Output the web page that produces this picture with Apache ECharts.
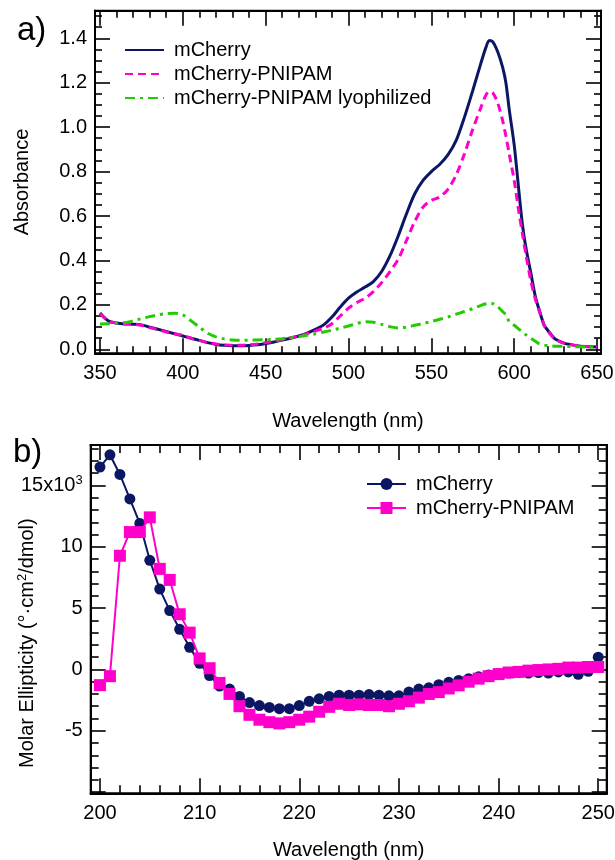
<!DOCTYPE html>
<html>
<head>
<meta charset="utf-8">
<script src="https://cdn.jsdelivr.net/npm/echarts@6/dist/echarts.min.js"></script>
<style>
html,body{margin:0;padding:0;background:#fff;}
#chart{width:615px;height:860px;}
</style>
</head>
<body>
<div id="chart"></div>
<script>
// ---------- Panel a) absorbance ----------
const absWavelength = [350,355,360,365,370,375,380,385,390,395,400,405,410,415,420,425,430,435,440,445,450,455,460,465,470,475,480,485,490,495,500,505,510,515,520,525,530,535,540,545,550,555,560,565,570,575,580,583,585,587,590,593,595,597,600,603,605,607,610,613,615,618,620,623,625,630,635,640,645,650];
const absMCherry = [0.163,0.128,0.118,0.114,0.113,0.110,0.100,0.090,0.080,0.070,0.060,0.050,0.040,0.030,0.022,0.018,0.016,0.016,0.017,0.020,0.026,0.033,0.042,0.050,0.060,0.073,0.090,0.110,0.145,0.190,0.230,0.258,0.280,0.305,0.350,0.420,0.510,0.610,0.700,0.760,0.800,0.832,0.875,0.940,1.045,1.165,1.290,1.360,1.390,1.385,1.340,1.270,1.200,1.080,0.920,0.700,0.560,0.460,0.345,0.230,0.180,0.110,0.088,0.060,0.045,0.028,0.020,0.014,0.012,0.010];
const absPNIPAM = [0.160,0.128,0.118,0.115,0.113,0.108,0.098,0.088,0.078,0.070,0.062,0.050,0.040,0.030,0.024,0.020,0.018,0.018,0.020,0.024,0.030,0.036,0.044,0.052,0.060,0.070,0.082,0.095,0.115,0.150,0.185,0.210,0.230,0.260,0.300,0.350,0.405,0.490,0.575,0.640,0.670,0.685,0.720,0.785,0.880,0.990,1.090,1.145,1.160,1.155,1.110,1.030,0.960,0.880,0.760,0.610,0.520,0.430,0.310,0.220,0.175,0.110,0.085,0.058,0.044,0.028,0.020,0.015,0.012,0.010];
const absLyophilized = [0.114,0.115,0.118,0.120,0.128,0.138,0.147,0.155,0.161,0.162,0.155,0.128,0.100,0.072,0.056,0.047,0.042,0.041,0.041,0.042,0.043,0.045,0.048,0.052,0.057,0.063,0.070,0.078,0.086,0.095,0.105,0.116,0.124,0.122,0.112,0.102,0.096,0.100,0.108,0.116,0.125,0.135,0.145,0.158,0.170,0.183,0.198,0.205,0.208,0.206,0.192,0.170,0.155,0.125,0.108,0.090,0.078,0.066,0.050,0.035,0.025,0.019,0.017,0.015,0.014,0.013,0.012,0.011,0.010,0.010];
const absXMajor = [350,400,450,500,550,600,650];
const absXMinor = [360,370,380,390,410,420,430,440,460,470,480,490,510,520,530,540,560,570,580,590,610,620,630,640];
const absYMajor = [0.0,0.2,0.4,0.6,0.8,1.0,1.2,1.4];
const absYMinor = [0.05,0.1,0.15,0.25,0.3,0.35,0.45,0.5,0.55,0.65,0.7,0.75,0.85,0.9,0.95,1.05,1.1,1.15,1.25,1.3,1.35,1.45,1.5];

// ---------- Panel b) circular dichroism ----------
const cdWavelength = [200,201,202,203,204,205,206,207,208,209,210,211,212,213,214,215,216,217,218,219,220,221,222,223,224,225,226,227,228,229,230,231,232,233,234,235,236,237,238,239,240,241,242,243,244,245,246,247,248,249,250];
const cdMCherry = [16.5,17.5,15.9,13.9,11.9,8.9,6.55,4.8,3.27,1.8,0.5,-0.5,-1.35,-1.6,-2.2,-2.7,-2.95,-3.1,-3.2,-3.2,-2.95,-2.6,-2.4,-2.2,-2.1,-2.1,-2.1,-2.05,-2.1,-2.15,-2.15,-1.85,-1.6,-1.5,-1.25,-1.05,-0.9,-0.75,-0.6,-0.45,-0.35,-0.3,-0.25,-0.3,-0.25,-0.3,-0.2,-0.2,-0.4,-0.15,1.0];
const cdPNIPAM = [-1.28,-0.55,9.27,11.2,11.2,12.4,8.2,7.3,4.5,3.0,0.9,0.1,-1.1,-2.0,-3.0,-3.7,-4.1,-4.3,-4.4,-4.3,-4.1,-3.85,-3.45,-3.05,-2.8,-2.9,-2.85,-2.9,-2.9,-3.0,-2.8,-2.6,-2.3,-2.0,-1.85,-1.55,-1.3,-1.0,-0.75,-0.55,-0.38,-0.25,-0.2,-0.1,-0.05,0.0,0.05,0.15,0.15,0.2,0.2];
const cdXMajor = [200,210,220,230,240,250];
const cdXMinor = [202,204,206,208,212,214,216,218,222,224,226,228,232,234,236,238,242,244,246,248];
const cdYMajor = [-10,-5,0,5,10,15];
const cdYMinor = [-9,-8,-7,-6,-4,-3,-2,-1,1,2,3,4,6,7,8,9,11,12,13,14,16,17,18];

const FONT = 'Liberation Sans';
const NAVY = '#0c1763';
const PINK = '#ff00cc';
const GREEN = '#22cc00';

function pairs(xs, ys){ return xs.map((x,i)=>[x, ys[i]]); }

// frame axis: black line on the plot edge with inward ticks
function tickAxis(grid, pos, min, max, values, len, extra){
  return Object.assign({
    type:'value', gridIndex:grid, position:pos, min:min, max:max,
    axisLine:{show:true, onZero:false, lineStyle:{color:'#000', width:2}},
    splitLine:{show:false},
    axisTick:{show:true, inside:true, length:len, customValues:values, lineStyle:{color:'#000', width:1.6}},
    axisLabel:{show:false},
    nameMoveOverlap:false
  }, extra || {});
}

const A = {xmin:347, xmax:652.4, ymin:-0.018, ymax:1.524};
const B = {xmin:199.07, xmax:250.85, ymin:-10.1, ymax:18.3};

const labelStyle = {color:'#000', fontFamily:FONT, fontSize:20};
const richSup = {n:{fontFamily:FONT, fontSize:20, color:'#000', lineHeight:24}, s:{fontFamily:FONT, fontSize:13, color:'#000', verticalAlign:'top', lineHeight:13}};

const xAxes = [
  tickAxis(0,'bottom',A.xmin,A.xmax,absXMajor,15,{
    axisLabel:Object.assign({show:true, margin:10, customValues:absXMajor}, labelStyle),
    name:'Wavelength (nm)', nameLocation:'middle', nameGap:58, nameMoveOverlap:false,
    nameTextStyle:{color:'#000', fontFamily:FONT, fontSize:20}
  }),
  tickAxis(0,'bottom',A.xmin,A.xmax,absXMinor,7),
  tickAxis(0,'top',A.xmin,A.xmax,absXMajor,15),
  tickAxis(0,'top',A.xmin,A.xmax,absXMinor,7),
  tickAxis(1,'bottom',B.xmin,B.xmax,cdXMajor,15,{
    axisLabel:Object.assign({show:true, margin:10, customValues:cdXMajor}, labelStyle),
    name:'Wavelength (nm)', nameLocation:'middle', nameGap:47, nameMoveOverlap:false,
    nameTextStyle:{color:'#000', fontFamily:FONT, fontSize:20}
  }),
  tickAxis(1,'bottom',B.xmin,B.xmax,cdXMinor,8),
  tickAxis(1,'top',B.xmin,B.xmax,cdXMajor,15),
  tickAxis(1,'top',B.xmin,B.xmax,cdXMinor,8)
];

const yAxes = [
  tickAxis(0,'left',A.ymin,A.ymax,absYMajor,15,{
    axisLabel:Object.assign({show:true, margin:8, customValues:absYMajor, formatter:v=>Number(v).toFixed(1)}, labelStyle),
    name:'Absorbance', nameLocation:'middle', nameGap:63, nameRotate:90, nameMoveOverlap:false,
    nameTextStyle:{color:'#000', fontFamily:FONT, fontSize:20}
  }),
  tickAxis(0,'left',A.ymin,A.ymax,absYMinor,7),
  tickAxis(0,'right',A.ymin,A.ymax,absYMajor,15),
  tickAxis(0,'right',A.ymin,A.ymax,absYMinor,7),
  tickAxis(1,'left',B.ymin,B.ymax,cdYMajor,15,{
    axisLabel:{show:true, margin:8, customValues:[-5,0,5,10,15], color:'#000', fontFamily:FONT, fontSize:20,
      formatter:v=> (Math.round(v)===15 ? '{n|15x10}{s|3}' : '{n|'+Math.round(v)+'}'),
      rich:richSup
    },
    name:'{n|Molar Ellipticity (°·cm}{s|2}{n|/dmol)}', nameLocation:'middle', nameGap:51, nameRotate:90, nameMoveOverlap:false,
    nameTextStyle:{color:'#000', fontFamily:FONT, fontSize:20, padding:[0,48,0,0], rich:richSup}
  }),
  tickAxis(1,'left',B.ymin,B.ymax,cdYMinor,8),
  tickAxis(1,'right',B.ymin,B.ymax,cdYMajor,15),
  tickAxis(1,'right',B.ymin,B.ymax,cdYMinor,8)
];

const option = {
  animation:false,
  backgroundColor:'#fff',
  grid:[
    {left:95, top:10.7, width:506, height:342.6, outerBoundsMode:'none', show:true, borderColor:'#000', borderWidth:2, backgroundColor:'transparent'},
    {left:90.7, top:445, width:516, height:348.3, outerBoundsMode:'none', show:true, borderColor:'#000', borderWidth:2, backgroundColor:'transparent'}
  ],
  xAxis:xAxes,
  yAxis:yAxes,
  legend:[
    {
      orient:'vertical', left:119, top:35, itemWidth:39, itemHeight:14, itemGap:4,
      itemStyle:{opacity:0},
      textStyle:{color:'#000', fontFamily:FONT, fontSize:20, padding:[0,0,0,5]},
      data:['mCherry','mCherry-PNIPAM','mCherry-PNIPAM lyophilized']
    },
    {
      orient:'vertical', left:361, top:469, itemWidth:39, itemHeight:15, itemGap:4,
      textStyle:{color:'#000', fontFamily:FONT, fontSize:20, padding:[0,0,0,5]},
      data:[{name:'mCherry '}, {name:'mCherry-PNIPAM '}]
    }
  ],
  graphic:[
    {type:'text', left:17, top:14, style:{text:'a)', font:'33px Liberation Sans', fill:'#000'}},
    {type:'text', left:13, top:436, style:{text:'b)', font:'33px Liberation Sans', fill:'#000'}}
  ],
  series:[
    {name:'mCherry', type:'line', xAxisIndex:0, yAxisIndex:0, data:pairs(absWavelength, absMCherry), symbol:'none', smooth:0.3,
      lineStyle:{color:NAVY, width:3}, itemStyle:{color:NAVY}, z:2},
    {name:'mCherry-PNIPAM', type:'line', xAxisIndex:0, yAxisIndex:0, data:pairs(absWavelength, absPNIPAM), symbol:'none', smooth:0.3,
      lineStyle:{color:PINK, width:3, type:[8,5]}, itemStyle:{color:PINK}, z:3},
    {name:'mCherry-PNIPAM lyophilized', type:'line', xAxisIndex:0, yAxisIndex:0, data:pairs(absWavelength, absLyophilized), symbol:'none', smooth:0.3,
      lineStyle:{color:GREEN, width:3, type:[10,5,3,5]}, itemStyle:{color:GREEN}, z:4},
    {name:'mCherry ', type:'line', xAxisIndex:4, yAxisIndex:4, data:pairs(cdWavelength, cdMCherry), symbol:'circle', symbolSize:11,
      lineStyle:{color:NAVY, width:2}, itemStyle:{color:NAVY}, z:2},
    {name:'mCherry-PNIPAM ', type:'line', xAxisIndex:4, yAxisIndex:4, data:pairs(cdWavelength, cdPNIPAM), symbol:'rect', symbolSize:12,
      lineStyle:{color:PINK, width:2}, itemStyle:{color:PINK}, z:3}
  ]
};

const chart = echarts.init(document.getElementById('chart'), null, {renderer:'canvas'});
chart.setOption(option);
</script>
</body>
</html>
